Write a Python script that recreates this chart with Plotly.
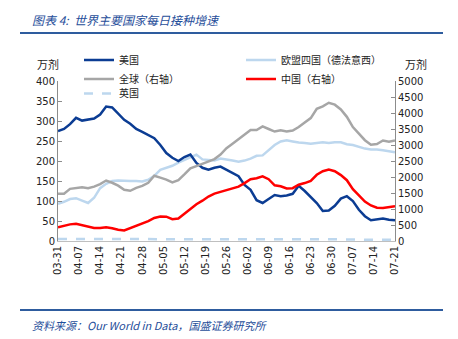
import plotly.graph_objects as go
import pandas as pd

# Sample days offset from 2021-03-31 (every 2 days)
day_offsets = list(range(0, 113, 2))
dates = [pd.Timestamp("2021-03-31") + pd.Timedelta(days=d) for d in day_offsets]

us = [275, 280, 292, 308, 301, 303, 306, 316, 336, 334, 318, 303, 293, 280, 273, 266,
      257, 240, 220, 208, 200, 210, 216, 195, 183, 178, 183, 186, 178, 170, 162, 140,
      128, 102, 95, 105, 115, 112, 114, 118, 138, 125, 110, 95, 75, 76, 88, 106,
      112, 100, 78, 62, 52, 54, 56, 53, 52]

eu4 = [93, 98, 105, 107, 101, 95, 108, 132, 143, 150, 151, 150, 150, 150, 149, 153,
       163, 178, 183, 188, 196, 202, 209, 216, 204, 202, 201, 206, 204, 201, 198, 201,
       206, 213, 214, 226, 240, 249, 252, 249, 246, 245, 243, 245, 247, 245, 247, 247,
       242, 240, 236, 231, 229, 229, 227, 224, 222]

uk = [5, 5, 5, 5, 5, 4, 4, 4, 4, 4, 4, 4, 4, 4, 4, 4,
      4, 4, 4, 4, 4, 4, 4, 4, 4, 4, 4, 4, 4, 4, 4, 4,
      4, 4, 4, 4, 4, 4, 4, 4, 4, 4, 4, 4, 4, 4, 4, 4,
      4, 4, 4, 3, 3, 3, 3, 3, 3]

world = [1480, 1480, 1630, 1650, 1680, 1650, 1700, 1780, 1890, 1820, 1730, 1600, 1570, 1660, 1720, 1820,
         2040, 1980, 1920, 1830, 1900, 2080, 2270, 2340, 2420, 2500, 2560, 2700, 2900, 3040, 3180, 3330,
         3470, 3470, 3580, 3500, 3420, 3460, 3420, 3450, 3560, 3700, 3840, 4130, 4210, 4320, 4260, 4110,
         3880, 3560, 3360, 3150, 3010, 3030, 3140, 3100, 3140]

china = [430, 480, 520, 540, 495, 460, 410, 405, 430, 400, 350, 330, 400, 470, 530, 620,
         720, 765, 760, 680, 700, 850, 1000, 1150, 1260, 1390, 1480, 1535, 1590, 1660, 1700, 1810,
         1930, 1960, 2020, 1930, 1740, 1710, 1640, 1650, 1760, 1810, 1880, 2070, 2180, 2230, 2180, 2060,
         1900, 1620, 1420, 1230, 1110, 1040, 1030, 1050, 1090]

tick_dates = pd.date_range("2021-03-31", "2021-07-21", freq="7D")
tick_text = [d.strftime("%m-%d") for d in tick_dates]

CJK = "Noto Sans CJK SC"
NUM = "DejaVu Sans"
W, H = 458, 339
L, R, T, B = 58, 63, 81, 98
PW, PH = W - L - R, H - T - B

def px(x):
    return (x - L) / PW

def py(y):
    return (H - B - y) / PH

fig = go.Figure()
fig.add_trace(go.Scatter(x=dates, y=world, name="全球（右轴）", yaxis="y2", legendrank=2,
                         line=dict(color="#A6A6A6", width=2.5), legend="legend"))
fig.add_trace(go.Scatter(x=dates, y=china, name="中国（右轴）", yaxis="y2", legendrank=2,
                         line=dict(color="#FF0000", width=2.5), legend="legend2"))
fig.add_trace(go.Scatter(x=dates, y=eu4, name="欧盟四国（德法意西）", legendrank=1,
                         line=dict(color="#BDD7EE", width=2.5), legend="legend2"))
fig.add_trace(go.Scatter(x=dates, y=us, name="美国", legendrank=1,
                         line=dict(color="#0B3C93", width=2.5), legend="legend"))
fig.add_trace(go.Scatter(x=dates, y=uk, name="英国",
                         line=dict(color="#BDD7EE", width=2.5, dash="dash"), legend="legend3"))

axis_col = "#8C8C8C"
leg_font = dict(family=CJK, size=10, color="#222")
fig.update_layout(
    width=W, height=H,
    margin=dict(l=L, r=R, t=T, b=B, autoexpand=False),
    paper_bgcolor="white", plot_bgcolor="white",
    showlegend=True,
    xaxis=dict(range=[tick_dates[0], tick_dates[-1]], tickvals=list(tick_dates), ticktext=tick_text,
               tickangle=-90, showgrid=False, showline=True, linecolor="#BFBFBF", linewidth=1,
               ticks="", ticklen=0,
               tickfont=dict(family=NUM, size=10, color="#222"), zeroline=False),
    yaxis=dict(range=[0, 400], dtick=50, showgrid=False, showline=True, linecolor=axis_col,
               ticks="inside", ticklen=4, tickcolor=axis_col, zeroline=False,
               tickfont=dict(family=NUM, size=10, color="#222")),
    yaxis2=dict(range=[0, 5000], dtick=500, overlaying="y", side="right", showgrid=False,
                showline=True, linecolor=axis_col, ticks="inside", ticklen=4, tickcolor=axis_col,
                zeroline=False, tickfont=dict(family=NUM, size=10, color="#222")),
    legend=dict(x=px(79), y=py(45.5), xanchor="left", yanchor="top", orientation="v",
                font=leg_font, bgcolor="rgba(0,0,0,0)", traceorder="normal", tracegroupgap=0),
    legend2=dict(x=px(241), y=py(45.5), xanchor="left", yanchor="top", orientation="v",
                 font=leg_font, bgcolor="rgba(0,0,0,0)", traceorder="normal", tracegroupgap=0),
    legend3=dict(x=px(79), y=py(79), xanchor="left", yanchor="top", orientation="v",
                 font=leg_font, bgcolor="rgba(0,0,0,0)", traceorder="normal", tracegroupgap=0),
)

title_col = "#1F4E9A"
fig.add_annotation(x=px(30), y=py(20), xref="paper", yref="paper", xanchor="left", yanchor="middle",
                   text="<i>图表 4:  世界主要国家每日接种增速</i>", showarrow=False,
                   font=dict(family=CJK, size=12, color=title_col))
fig.add_annotation(x=px(30), y=py(325), xref="paper", yref="paper", xanchor="left", yanchor="middle",
                   text="<i>资料来源：Our World in Data，国盛证券研究所</i>", showarrow=False,
                   font=dict(family=CJK, size=11, color=title_col))
fig.add_annotation(x=px(48), y=py(64), xref="paper", yref="paper", xanchor="center", yanchor="middle",
                   text="万剂", showarrow=False, font=dict(family=CJK, size=11, color="#222"))
fig.add_annotation(x=px(416), y=py(64), xref="paper", yref="paper", xanchor="center", yanchor="middle",
                   text="万剂", showarrow=False, font=dict(family=CJK, size=11, color="#222"))
for yy in (33, 310):
    fig.add_shape(type="line", xref="paper", yref="paper", x0=px(20), x1=px(443), y0=py(yy), y1=py(yy),
                  line=dict(color="#2E5C9E", width=2))

fig.write_html("out.html")
